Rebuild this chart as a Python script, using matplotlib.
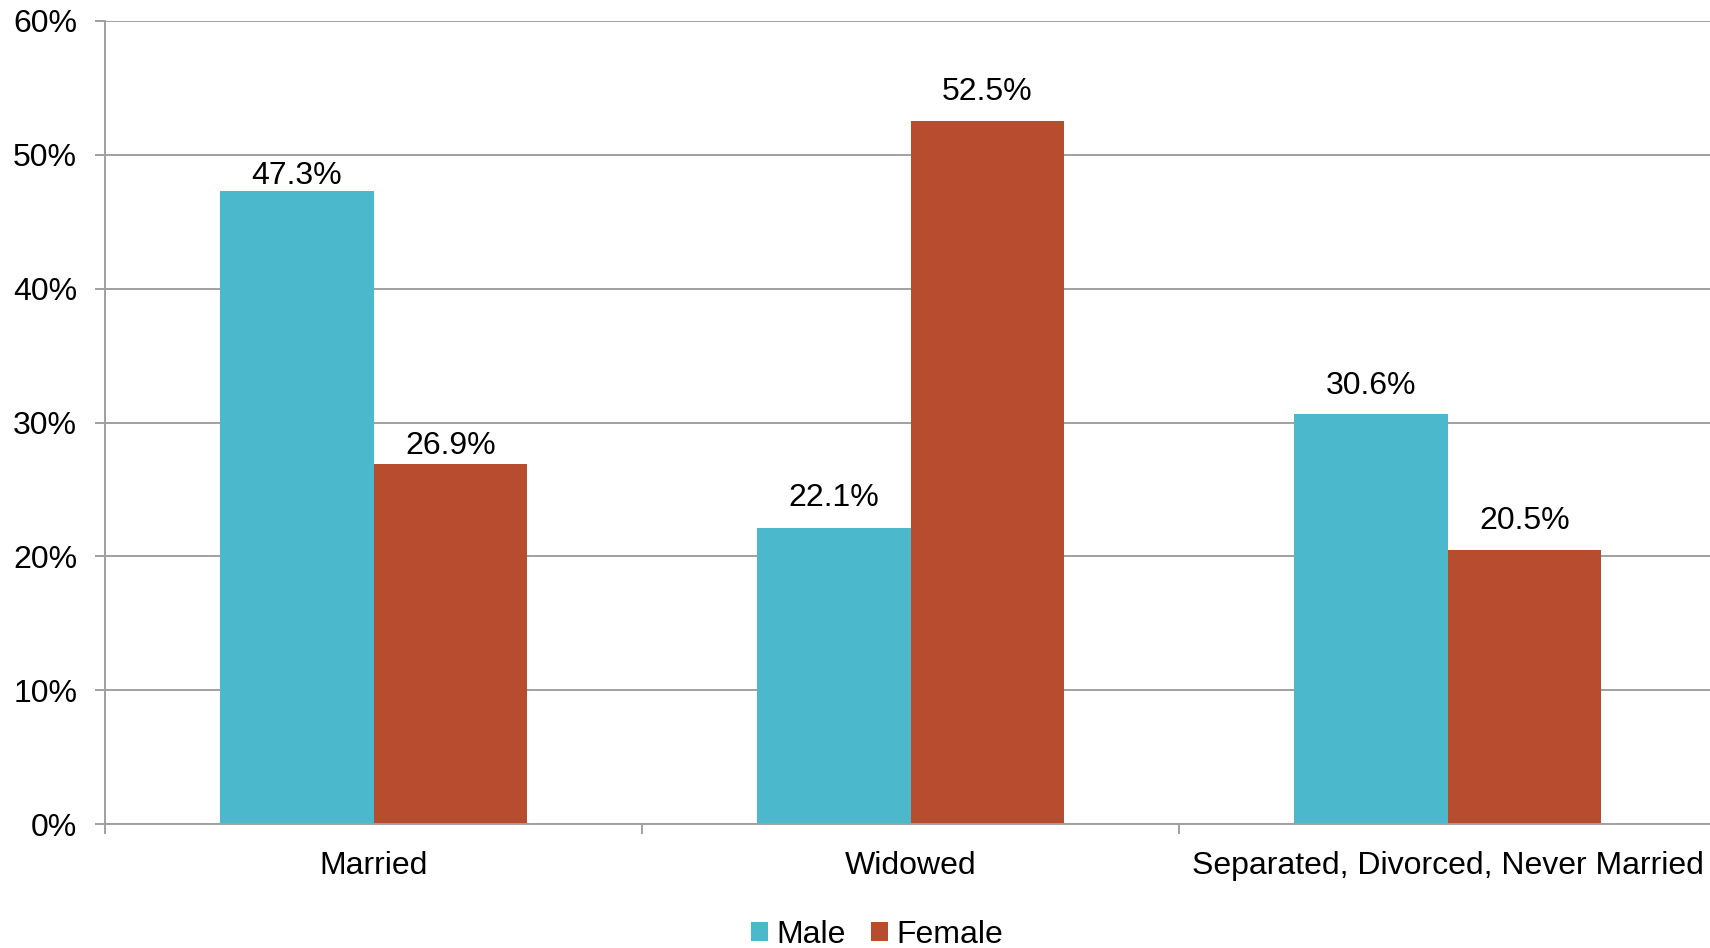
import numpy as np
import matplotlib.pyplot as plt

categories = ["Married", "Widowed", "Separated, Divorced, Never Married"]
male = [47.3, 22.1, 30.6]
female = [26.9, 52.5, 20.5]
yticks = [0, 10, 20, 30, 40, 50, 60]

c_male = "#4BB8CC"
c_female = "#B84C2F"
grid_c = "#A0A0A0"

# label gap above each bar (points), the source chart is not uniform
male_pad = [0, 11, 10]
female_pad = [2, 10, 10]

plt.rcParams["font.family"] = ["Liberation Sans", "DejaVu Sans"]
plt.rcParams["font.size"] = 23

fig = plt.figure(figsize=(17.1, 9.48), dpi=100)
ax = fig.add_axes([105 / 1710, 1 - 824.3 / 948, 1611 / 1710, (824.3 - 20.7) / 948])

x = np.arange(len(categories))
w = 1 / 3.5
b1 = ax.bar(x - w / 2, male, w, color=c_male, label="Male", zorder=2)
b2 = ax.bar(x + w / 2, female, w, color=c_female, label="Female", zorder=2)

for bars, vals, pads in ((b1, male, male_pad), (b2, female, female_pad)):
    for r, v, p in zip(bars, vals, pads):
        ax.annotate("%.1f%%" % v, (r.get_x() + r.get_width() / 2, v),
                    xytext=(0, p), textcoords="offset points",
                    ha="center", va="bottom", fontsize=23)

ax.set_xlim(-0.5, len(categories) - 0.5)
ax.set_ylim(0, 60)
ax.set_yticks(yticks)
ax.set_yticklabels(["%d%%" % t for t in yticks])
ax.yaxis.grid(True, color=grid_c, linewidth=1.4, zorder=0)

# category labels centred, tick marks on the boundaries
ax.set_xticks(x)
ax.set_xticklabels(categories)
ax.set_xticks(np.arange(len(categories) + 1) - 0.5, minor=True)
ax.tick_params(axis="x", which="major", length=0, pad=19)
ax.tick_params(axis="x", which="minor", length=7, width=1.4, color=grid_c)
ax.tick_params(axis="y", length=7, width=1.4, color=grid_c, pad=13)

for s in ("top", "right"):
    ax.spines[s].set_visible(False)
for s in ("left", "bottom"):
    ax.spines[s].set_color(grid_c)
    ax.spines[s].set_linewidth(1.4)

fig.legend(handles=[b1, b2], loc="center", bbox_to_anchor=(877 / 1710, 1 - 935 / 948),
           ncol=2, frameon=False, fontsize=23, handlelength=0.54, handleheight=0.52,
           handletextpad=0.25, columnspacing=0.8)

fig.savefig("out.png", dpi=100)
